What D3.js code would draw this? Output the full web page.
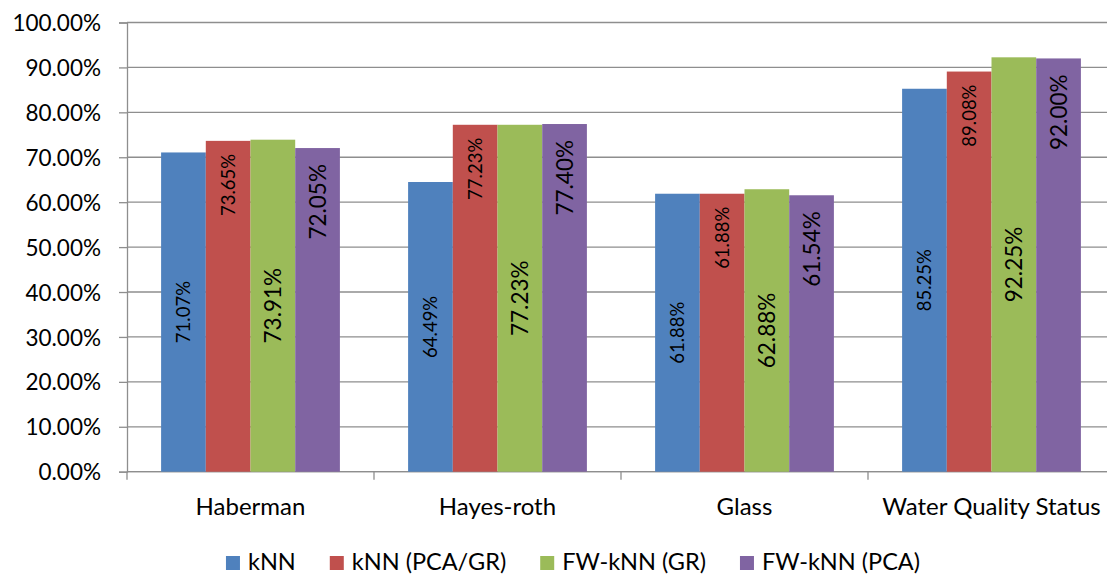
<!DOCTYPE html>
<html>
<head>
<meta charset="utf-8">
<script src="https://cdn.jsdelivr.net/npm/d3@7/dist/d3.min.js"></script>
<style>
  html, body { margin: 0; padding: 0; background: #fff; }
  svg { display: block; font-family: Lato, "Open Sans", sans-serif; }
</style>
</head>
<body>
<svg id="chart" width="1107" height="576"></svg>
<script>
// Classification accuracy (%) per dataset and method
const categories = ["Haberman", "Hayes-roth", "Glass", "Water Quality Status"];
const seriesNames = ["kNN", "kNN (PCA/GR)", "FW-kNN (GR)", "FW-kNN (PCA)"];
const knn   = [71.07, 64.49, 61.88, 85.25];
const pcaGr = [73.65, 77.23, 61.88, 89.08];
const fwGr  = [73.91, 77.23, 62.88, 92.25];
const fwPca = [72.05, 77.40, 61.54, 92.00];
const yTicks = [0, 10, 20, 30, 40, 50, 60, 70, 80, 90, 100];

const seriesValues = [knn, pcaGr, fwGr, fwPca];
const colors = ["#4F81BD", "#C0504D", "#9BBB59", "#8064A2"];
// label style per series: font size and placement (middle of bar or inside its top)
const labelSize = [18.5, 18.5, 22.5, 22.5];
const labelPos  = ["center", "end", "center", "end"];

const svg = d3.select("#chart");
const plotLeft = 127, plotTop = 22.5, plotBottom = 471.7, catWidth = 247;

const x = d3.scaleBand().domain(categories)
  .range([plotLeft, plotLeft + catWidth * categories.length]).padding(0);
const xs = d3.scaleBand().domain(seriesNames).range([34.1, 212.9]).padding(0);
const y = d3.scaleLinear().domain([0, 100]).range([plotBottom, plotTop]);

const gridColor = "#8e8e8e";

// horizontal gridlines
svg.append("g").selectAll("line").data(yTicks).join("line")
  .attr("x1", plotLeft).attr("x2", 1107)
  .attr("y1", d => y(d)).attr("y2", d => y(d))
  .attr("stroke", gridColor).attr("stroke-width", 1.3);

// y axis
const yAxis = svg.append("g").attr("transform", `translate(${plotLeft},0)`)
  .call(d3.axisLeft(y).tickValues(yTicks).tickSize(8).tickPadding(18)
    .tickFormat(d => d.toFixed(2) + "%"));
yAxis.select(".domain").attr("stroke", gridColor).attr("stroke-width", 1.3);
yAxis.selectAll(".tick line").attr("stroke", gridColor).attr("stroke-width", 1.3);
yAxis.selectAll(".tick text").attr("font-family", "Lato, sans-serif")
  .attr("font-size", 22.5).attr("fill", "#000").attr("dy", "0.36em");

// x axis
const xAxisG = svg.append("g").attr("transform", `translate(0,${plotBottom})`);
xAxisG.append("line").attr("x1", plotLeft).attr("x2", 1107)
  .attr("y1", 0).attr("y2", 0).attr("stroke", gridColor).attr("stroke-width", 1.3);
const xBounds = categories.map(c => x(c)).concat([x(categories[categories.length - 1]) + catWidth]);
xAxisG.selectAll("line.tk").data(xBounds).join("line").attr("class", "tk")
  .attr("x1", d => d).attr("x2", d => d).attr("y1", 0).attr("y2", 8)
  .attr("stroke", gridColor).attr("stroke-width", 1.3);
xAxisG.selectAll("text").data(categories).join("text")
  .attr("x", d => x(d) + catWidth / 2).attr("y", 43.5)
  .attr("text-anchor", "middle").attr("font-size", 24).attr("fill", "#000")
  .text(d => d);

// bars
const barData = [];
categories.forEach((c, ci) => seriesNames.forEach((s, si) => {
  barData.push({ c, s, si, v: seriesValues[si][ci] });
}));

svg.append("g").selectAll("rect").data(barData).join("rect")
  .attr("x", d => x(d.c) + xs(d.s))
  .attr("width", xs.bandwidth())
  .attr("y", d => y(d.v))
  .attr("height", d => plotBottom - y(d.v))
  .attr("fill", d => colors[d.si]);

// value labels, rotated to read upward
svg.append("g").selectAll("text").data(barData).join("text")
  .attr("transform", d => {
    const cx = x(d.c) + xs(d.s) + xs.bandwidth() / 2;
    const cy = labelPos[d.si] === "center"
      ? (y(d.v) + plotBottom) / 2
      : y(d.v) + (d.si === 3 ? 16 : 13);
    return `translate(${cx},${cy}) rotate(-90)`;
  })
  .attr("text-anchor", d => labelPos[d.si] === "center" ? "middle" : "end")
  .attr("dy", "0.36em")
  .attr("font-size", d => labelSize[d.si])
  .attr("fill", "#000")
  .text(d => d.v.toFixed(2) + "%");

// legend
const legend = svg.append("g");
const items = legend.selectAll("g").data(seriesNames).join("g");
items.append("rect").attr("width", 14).attr("height", 14).attr("y", -14)
  .attr("fill", (d, i) => colors[i]);
items.append("text").attr("x", 22).attr("y", 0)
  .attr("font-size", 23.5).attr("fill", "#000").text(d => d);
let cursor = 0;
const offsets = [];
items.each(function () {
  offsets.push(cursor);
  const w = 22 + d3.select(this).select("text").node().getComputedTextLength();
  cursor += w + 34;
});
const total = cursor - 34;
const legendLeft = 573 - total / 2;
items.attr("transform", (d, i) => `translate(${legendLeft + offsets[i]},570)`);
</script>
</body>
</html>
